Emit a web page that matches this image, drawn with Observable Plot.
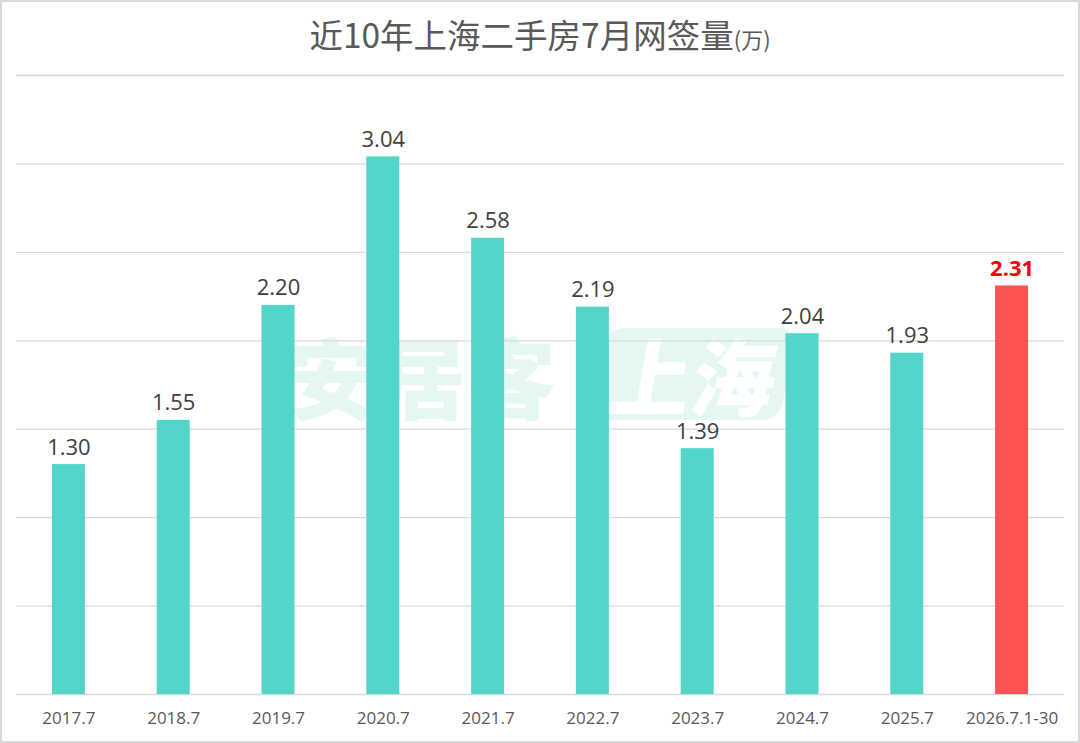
<!DOCTYPE html>
<html>
<head>
<meta charset="utf-8">
<script src="https://cdn.jsdelivr.net/npm/d3@7"></script>
<script src="https://cdn.jsdelivr.net/npm/@observablehq/plot@0.6"></script>
<style>
  html, body { margin: 0; padding: 0; background: #fff; }
  #frame { position: relative; width: 1080px; height: 743px; box-sizing: border-box; border: 2px solid #d9d9d9; background: #fff; overflow: hidden; }
  #title { height: 58px; line-height: 64px; text-align: center; font-family: "Noto Sans CJK SC", sans-serif; font-size: 33.5px; color: #595959; }
  #title small { font-size: 22px; }
  #wm { position: absolute; left: 286px; top: 322px; display: flex; align-items: center; pointer-events: none; }
  #wm .a { font-family: "Noto Sans CJK SC", sans-serif; font-weight: 900; font-size: 88px; color: #e4f7f2; letter-spacing: 2px; line-height: 100px; }
  #wm .b { margin-left: 40px; width: 190px; height: 92px; border-radius: 18px; background: #e4f7f2; transform: skewX(-10deg); display: flex; align-items: center; justify-content: center; font-family: "Noto Sans CJK SC", sans-serif; font-weight: 900; font-size: 84px; color: #fff; line-height: 92px; }
  #chart { position: relative; }
</style>
</head>
<body>
<div id="frame">
  <div id="title">近10年上海二手房7月网签量<small>(万)</small></div>
  <div id="wm"><span class="a">安居客</span><span class="b">上海</span></div>
  <div id="chart"></div>
</div>
<script>
const categories = ["2017.7","2018.7","2019.7","2020.7","2021.7","2022.7","2023.7","2024.7","2025.7","2026.7.1-30"];
const values = [1.30, 1.55, 2.20, 3.04, 2.58, 2.19, 1.39, 2.04, 1.93, 2.31];
const highlighted = ["2026.7.1-30"];
const gridTicks = [0, 0.5, 1, 1.5, 2, 2.5, 3, 3.5];

const data = categories.map((c, i) => ({cat: c, value: values[i], hi: highlighted.includes(c)}));

const chart = Plot.plot({
  width: 1076,
  height: 681,
  marginTop: 15,
  marginBottom: 47,
  marginLeft: 14,
  marginRight: 14,
  style: {background: "transparent", fontFamily: "'Open Sans', sans-serif"},
  x: {domain: categories, paddingInner: 0.685, paddingOuter: 0.3425, round: false, label: null},
  y: {domain: [0, 3.5], axis: null},
  marks: [
    Plot.ruleY(gridTicks, {stroke: "#d9d9d9", strokeWidth: 1.3}),
    Plot.barY(data, {x: "cat", y: "value", fill: d => d.hi ? "#ff5252" : "#53d5ca"}),
    Plot.text(data.filter(d => !d.hi), {x: "cat", y: "value", text: d => d.value.toFixed(2), lineAnchor: "bottom", dy: -10, fontSize: 22, fill: "#404040"}),
    Plot.text(data.filter(d => d.hi), {x: "cat", y: "value", text: d => d.value.toFixed(2), lineAnchor: "bottom", dy: -10, fontSize: 22, fontWeight: "bold", fill: "#ff0000"}),
    Plot.axisX({tickSize: 0, tickPadding: 17, fontSize: 17, color: "#595959", label: null})
  ]
});
document.getElementById("chart").appendChild(chart);
</script>
</body>
</html>
